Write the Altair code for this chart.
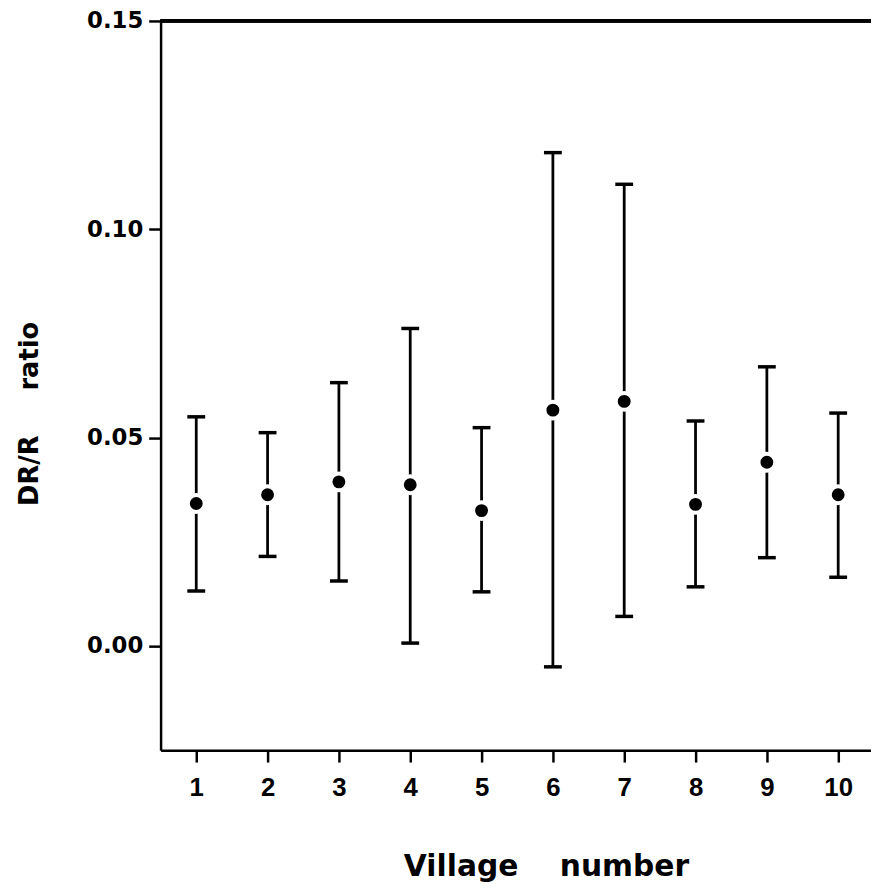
import altair as alt
import pandas as pd

villages = [1, 2, 3, 4, 5, 6, 7, 8, 9, 10]
mean_ratio = [0.0342, 0.0363, 0.0394, 0.0387, 0.0325, 0.0566, 0.0587, 0.0340, 0.0441, 0.0363]
lower_ci = [0.0132, 0.0215, 0.0156, 0.0007, 0.0130, -0.0050, 0.0071, 0.0142, 0.0212, 0.0165]
upper_ci = [0.0550, 0.0512, 0.0632, 0.0762, 0.0524, 0.1184, 0.1108, 0.0540, 0.0670, 0.0559]
y_ticks = [0.0, 0.05, 0.10, 0.15]

df = pd.DataFrame({"village": villages, "mean": mean_ratio,
                   "lo": lower_ci, "hi": upper_ci})

NB = "\u00a0"
x_title = "Village" + NB * 4 + "number"
y_title = "DR/R" + NB * 5 + "ratio"

xscale = alt.Scale(domain=[0.5, 10.46], nice=False, zero=False)
yscale = alt.Scale(domain=[-0.025, 0.15], nice=False, zero=False)

xaxis = alt.Axis(values=villages, format="d", title=x_title,
                 domainColor="black", domainWidth=2.5,
                 tickColor="black", tickWidth=2.5, tickSize=12,
                 labelFont="Liberation Sans", labelFontWeight="bold",
                 labelFontSize=26, labelColor="black", labelPadding=13,
                 grid=False,
                 titleFont="DejaVu Sans", titleFontWeight="bold",
                 titleFontSize=30, titleColor="black",
                 titleX=389, titleY=117, titleAlign="center",
                 titleBaseline="middle")
yaxis = alt.Axis(values=y_ticks, format=".2f", title=y_title,
                 domainColor="black", domainWidth=2.5,
                 tickColor="black", tickWidth=2.5, tickSize=12,
                 labelFont="DejaVu Sans", labelFontWeight="bold",
                 labelFontSize=23, labelColor="black", labelPadding=6,
                 grid=False,
                 titleFont="DejaVu Sans", titleFontWeight="bold",
                 titleFontSize=26, titleColor="black",
                 titleX=-132, titleY=396, titleAngle=270,
                 titleAlign="center", titleBaseline="middle")

base = alt.Chart(df)

bars = base.mark_rule(color="black", strokeWidth=2.8, opacity=1).encode(
    x=alt.X("village:Q", scale=xscale, axis=xaxis),
    y=alt.Y("lo:Q", scale=yscale, axis=yaxis),
    y2="hi:Q",
)
caps_lo = base.mark_tick(color="black", orient="horizontal", size=18,
                         thickness=3.5, opacity=1).encode(
    x=alt.X("village:Q", scale=xscale, axis=xaxis),
    y=alt.Y("lo:Q", scale=yscale, axis=yaxis),
)
caps_hi = base.mark_tick(color="black", orient="horizontal", size=18,
                         thickness=3.5, opacity=1).encode(
    x=alt.X("village:Q", scale=xscale, axis=xaxis),
    y=alt.Y("hi:Q", scale=yscale, axis=yaxis),
)
points = base.mark_point(filled=True, shape="circle", size=289,
                         color="black", stroke="white", strokeWidth=4,
                         opacity=1).encode(
    x=alt.X("village:Q", scale=xscale, axis=xaxis),
    y=alt.Y("mean:Q", scale=yscale, axis=yaxis),
)
top_border = alt.Chart(df).mark_rule(color="black", strokeWidth=2.8).encode(
    y=alt.value(0)
)

chart = alt.layer(bars, caps_lo, caps_hi, points, top_border).properties(
    width=717, height=736,
    autosize=alt.AutoSizeParams(type="none"),
    padding={"left": 154, "top": 9, "right": 0, "bottom": 132},
    background="white",
).configure_view(stroke=None)

chart.save("out.html", embed_options={"renderer": "svg", "actions": False})
